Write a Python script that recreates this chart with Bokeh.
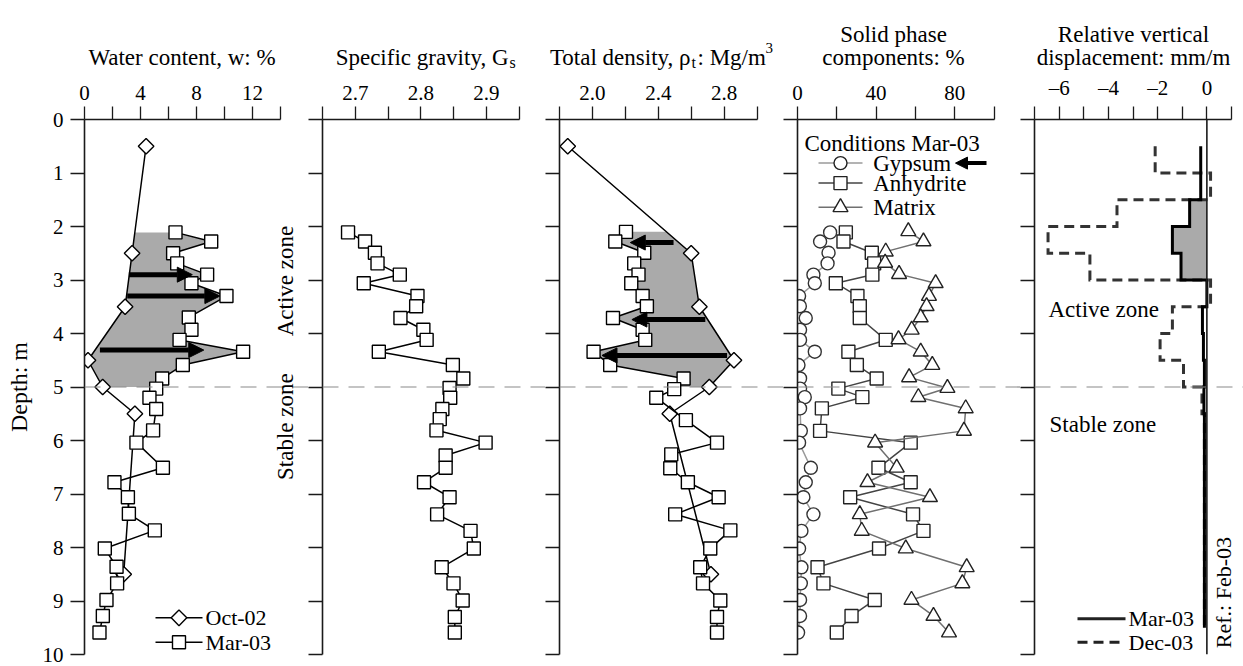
import numpy as np
from bokeh.plotting import figure
from bokeh.layouts import row, column
from bokeh.models import Range1d, FixedTicker, Span, Label, Arrow, NormalHead, ColumnDataSource
from bokeh.core.properties import value
from bokeh.embed import file_html
from bokeh.resources import INLINE

# ---------------- data ----------------
# Water content profiles (depth in m, w in %)
OCT02_DEPTH = [0.5, 2.5, 3.5, 4.5, 5.0, 5.5, 8.5]
OCT02_W = [4.4, 3.4, 2.9, 0.25, 1.3, 3.6, 2.8]
MAR03_W_DEPTH = [2.11, 2.28, 2.50, 2.69, 2.90, 3.06, 3.30, 3.70, 3.93, 4.12, 4.34, 4.59, 4.84,
                 5.03, 5.20, 5.41, 5.81, 6.04, 6.51, 6.78, 7.06, 7.37, 7.68, 8.02, 8.36, 8.67,
                 8.98, 9.28, 9.59]
MAR03_W = [6.5, 9.05, 6.33, 6.62, 8.76, 7.64, 10.14, 7.45, 7.64, 6.79, 11.33, 7.02, 5.55,
           5.12, 4.64, 5.12, 4.9, 3.71, 5.6, 2.14, 3.1, 3.17, 5.02, 1.45, 2.29, 2.33,
           1.57, 1.31, 1.07]
# wetting arrows: depth, from, to
W_ARROW_DEPTH = [2.90, 3.30, 4.31]
W_ARROW_FROM = [3.17, 3.05, 1.10]
W_ARROW_TO = [7.70, 9.67, 8.52]

# Specific gravity
GS_DEPTH = [2.11, 2.28, 2.49, 2.69, 2.90, 3.06, 3.30, 3.49, 3.71, 3.93, 4.12, 4.34, 4.59, 4.84,
            5.02, 5.20, 5.41, 5.60, 5.81, 6.04, 6.28, 6.51, 6.78, 7.06, 7.38, 7.69, 8.02, 8.37,
            8.67, 8.99, 9.30, 9.59]
GS = [2.689, 2.715, 2.730, 2.734, 2.768, 2.713, 2.795, 2.793, 2.769, 2.804, 2.809, 2.736, 2.849,
      2.865, 2.844, 2.845, 2.833, 2.829, 2.824, 2.899, 2.838, 2.838, 2.805, 2.844, 2.825, 2.876,
      2.881, 2.832, 2.850, 2.864, 2.852, 2.852]

# Total density
OCT02_RHO = [1.85, 2.60, 2.65, 2.86, 2.71, 2.47, 2.72]
MAR03_RHO_DEPTH = [2.10, 2.28, 2.49, 2.69, 2.90, 3.06, 3.30, 3.49, 3.71, 3.93, 4.12, 4.34, 4.59,
                   4.84, 5.04, 5.20, 5.62, 6.04, 6.26, 6.52, 6.78, 7.06, 7.38, 7.68, 8.02, 8.37,
                   8.67, 8.99, 9.30, 9.59]
MAR03_RHO = [2.204, 2.139, 2.315, 2.254, 2.280, 2.236, 2.305, 2.331, 2.125, 2.305, 2.321, 2.007,
             2.108, 2.554, 2.497, 2.388, 2.568, 2.757, 2.479, 2.473, 2.580, 2.767, 2.503, 2.838,
             2.716, 2.655, 2.672, 2.777, 2.757, 2.757]
RHO_ARROW_DEPTH = [2.30, 3.74, 4.41]
RHO_ARROW_FROM = [2.493, 2.686, 2.818]
RHO_ARROW_TO = [2.230, 2.240, 2.058]

# Solid phase components (%)
GYP_DEPTH = [2.11, 2.28, 2.49, 2.69, 2.90, 3.06, 3.30, 3.49, 3.71, 3.93, 4.12, 4.34, 4.59, 4.84,
             5.03, 5.19, 5.40, 5.82, 6.04, 6.51, 6.78, 7.06, 7.38, 7.69, 8.02, 8.37, 8.67, 8.98,
             9.28, 9.59]
GYPSUM = [16.6, 11.5, 15.8, 15.3, 8.1, 8.8, 0.8, 1.2, 4.2, 1.3, 1.3, 8.8, 0.5, 1.3,
          1.3, 3.7, 1.3, 1.7, 0.8, 6.8, 4.2, 3.0, 8.1, 2.0, 0.8, 2.0, 1.7, 1.3, 1.3, 0.3]
ANH_DEPTH = [2.11, 2.28, 2.49, 2.69, 2.90, 3.06, 3.30, 3.49, 3.71, 4.12, 4.34, 4.59, 4.84, 5.03,
             5.19, 5.40, 5.82, 6.04, 6.51, 6.78, 7.06, 7.38, 7.69, 8.02, 8.37, 8.67, 8.98, 9.28,
             9.59]
ANHYDRITE = [24.6, 23.4, 37.8, 39.0, 38.1, 19.5, 30.5, 31.7, 31.7, 44.9, 25.9, 30.2, 40.3, 20.8,
             33.0, 12.4, 11.5, 57.6, 41.2, 57.6, 26.8, 58.8, 64.1, 41.5, 10.2, 13.2, 39.3, 27.5,
             20.0]
MAT_DEPTH = [2.09, 2.28, 2.47, 2.68, 2.89, 3.06, 3.30, 3.49, 3.70, 3.93, 4.11, 4.34, 4.59, 4.82,
             5.02, 5.19, 5.40, 5.82, 6.04, 6.51, 6.78, 7.06, 7.38, 7.69, 8.02, 8.37, 8.67, 8.98,
             9.28, 9.59]
MATRIX = [56.4, 64.1, 44.9, 44.6, 51.7, 70.3, 66.9, 65.7, 62.7, 58.1, 51.4, 62.7, 68.6, 56.8,
          76.3, 61.5, 85.6, 84.7, 39.5, 50.5, 35.6, 67.4, 31.7, 32.7, 55.1, 86.1, 83.9, 58.0,
          69.2, 77.1]

# Relative vertical displacement (mm/m), per 0.5 m interval
DISP_EDGES = [0.5, 1.0, 1.5, 2.0, 2.5, 3.0, 3.5, 4.0, 4.5, 5.0, 5.5, 6.0, 6.5, 7.0, 7.5, 8.0,
              8.5, 9.0, 9.5]
DISP_MAR03 = [-0.25, -0.25, -0.70, -1.40, -1.05, 0.00, -0.18, -0.14, -0.10, -0.12,
              -0.10, -0.10, -0.10, -0.10, -0.10, -0.10, -0.10, -0.10]
DISP_DEC03 = [-2.10, 0.15, -3.65, -6.45, -4.75, 0.15, -1.40, -1.90, -0.95, -0.20,
              -0.10, -0.10, -0.10, -0.10, -0.10, -0.10, -0.10, -0.10]
DISP_FILL_TOP, DISP_FILL_BOTTOM = 1.5, 3.0

ZONE_BOUNDARY = 5.0

# axis ticks: labelled ticks, their labels, and the unlabelled ticks in between
DEPTH_TICKS = [0, 1, 2, 3, 4, 5, 6, 7, 8, 9, 10]
W_TICKS, W_LABELS, W_MINOR = [0, 4, 8, 12], ["0", "4", "8", "12"], [2, 6, 10, 14]
GS_TICKS, GS_LABELS, GS_MINOR = [2.7, 2.8, 2.9], ["2.7", "2.8", "2.9"], [2.65, 2.75, 2.85, 2.95]
RHO_TICKS, RHO_LABELS, RHO_MINOR = [2.0, 2.4, 2.8], ["2.0", "2.4", "2.8"], [1.8, 2.2, 2.6, 3.0]
SOLID_TICKS, SOLID_LABELS, SOLID_MINOR = [0, 40, 80], ["0", "40", "80"], [20, 60, 100]
DISP_TICKS = [-6, -4, -2, 0]
DISP_LABELS = ["\u20136", "\u20134", "\u20132", "0"]
DISP_MINOR = [-7, -5, -3, -1, 1]

# ---------------- layout / style ----------------
FONT = "Liberation Serif"
W = 1243
HEAD = 72                      # strip holding the panel titles
H = 666 - HEAD                 # height of the panel row
TOP, BOTTOM = 46, 12           # frame borders inside the panel row
FRAME_TOP = HEAD + TOP         # page row of depth 0
PX_PER_M = (H - TOP - BOTTOM) / 10.0
TICK = 14
INK = "#1a1a1a"
SHADE = "#aaaaaa"

Y_RANGE = Range1d(10, 0)


def depth_at(py):
    return (py - FRAME_TOP) / PX_PER_M


def style_ticks(ax, out):
    ax.major_tick_out = out
    ax.major_tick_in = 0
    ax.minor_tick_out = out
    ax.minor_tick_in = 0
    ax.axis_line_width = 1.6
    ax.axis_line_color = INK
    ax.major_tick_line_width = 1.3
    ax.major_tick_line_color = INK
    ax.minor_tick_line_width = 1.3
    ax.minor_tick_line_color = INK


def make_panel(fig_left, axis_px, fig_right, x0, x1, span_px, ticks, labels, minor,
               depth_labels=False):
    frame_w = fig_right - axis_px
    x_end = x0 + (x1 - x0) * frame_w / span_px
    p = figure(width=fig_right - fig_left, height=H, x_range=Range1d(x0, x_end), y_range=Y_RANGE,
               x_axis_location="above", output_backend="svg", toolbar_location=None,
               min_border_left=axis_px - fig_left, min_border_right=0,
               min_border_top=TOP, min_border_bottom=BOTTOM)
    p.outline_line_color = None
    p.xgrid.visible = False
    p.ygrid.visible = False
    p.background_fill_color = "white"
    p.border_fill_color = "white"

    xa = p.xaxis[0]
    xa.ticker = FixedTicker(ticks=ticks, minor_ticks=minor)
    xa.bounds = (x0, x1)
    xa.major_label_overrides = dict(zip(ticks, labels))
    style_ticks(xa, 13)
    xa.major_label_text_font = FONT
    xa.major_label_text_font_size = "21px"
    xa.major_label_text_color = "black"
    xa.major_label_standoff = 7

    ya = p.yaxis[0]
    style_ticks(ya, TICK)
    if depth_labels:
        ya.ticker = FixedTicker(ticks=DEPTH_TICKS, minor_ticks=[])
        ya.major_label_text_font = FONT
        ya.major_label_text_font_size = "21px"
        ya.major_label_text_color = "black"
        ya.major_label_standoff = 7
        ya.axis_label = "Depth: m"
        ya.axis_label_text_font = FONT
        ya.axis_label_text_font_size = "24px"
        ya.axis_label_text_font_style = "normal"
        ya.axis_label_text_color = "black"
        ya.axis_label_standoff = 8
    else:
        # unlabelled depth ticks
        ya.ticker = FixedTicker(ticks=[], minor_ticks=DEPTH_TICKS)
        ya.major_label_standoff = 0

    p.add_layout(Span(location=ZONE_BOUNDARY, dimension="width", line_color="#8a8a8a",
                      line_dash="16 10", line_width=1.2))

    def conv(px):
        return x0 + (px - axis_px) * (x1 - x0) / span_px

    return p, conv


def label(p, x, y, text, size=23, align="left", baseline="alphabetic", angle=0.0):
    p.add_layout(Label(x=x, y=y, text=text, text_font=FONT, text_font_size=f"{size}px",
                       text_align=align, text_baseline=baseline, angle=angle,
                       text_color="black"))


def shade_between(p, left_d, left_v, right_d, right_v, top, bottom):
    left_d, left_v = np.asarray(left_d), np.asarray(left_v)
    right_d, right_v = np.asarray(right_d), np.asarray(right_v)
    lsel = (left_d > top) & (left_d < bottom)
    rsel = (right_d > top) & (right_d < bottom)
    lx = [np.interp(top, left_d, left_v)] + list(left_v[lsel]) + [np.interp(bottom, left_d, left_v)]
    ly = [top] + list(left_d[lsel]) + [bottom]
    rx = [np.interp(top, right_d, right_v)] + list(right_v[rsel]) + [np.interp(bottom, right_d, right_v)]
    ry = [top] + list(right_d[rsel]) + [bottom]
    p.patch(lx + rx[::-1], ly + ry[::-1], fill_color=SHADE, line_color=None)


def arrows(p, depth, x_from, x_to, size=15, width=5):
    src = ColumnDataSource(dict(x0=x_from, x1=x_to, y=depth))
    p.add_layout(Arrow(end=NormalHead(size=size, fill_color="black", line_color="black"),
                       x_start="x0", y_start="y", x_end="x1", y_end="y", source=src,
                       line_width=width, line_color="black"))


def profile(p, x, y, marker, size, line_color="black", line_width=1.5, angle=0.0,
            marker_line="black"):
    p.line(x, y, line_color=line_color, line_width=line_width)
    p.scatter(x, y, marker=marker, size=size, angle=angle, fill_color="white",
              line_color=marker_line, line_width=1.4)


def steps(edges, vals):
    xs, ys = [], []
    for i, v in enumerate(vals):
        xs += [v, v]
        ys += [edges[i], edges[i + 1]]
    return xs, ys


DIAMOND = dict(marker="square", size=11, angle=np.pi / 4)

# ---------------- title strip ----------------
head = figure(width=W, height=HEAD, x_range=Range1d(0, W), y_range=Range1d(HEAD, 0),
              x_axis_location=None, y_axis_location=None, output_backend="svg",
              toolbar_location=None, min_border=0)
head.outline_line_color = None
head.xgrid.visible = False
head.ygrid.visible = False
head.border_fill_color = "white"


def head_text(x, y, s, size=23, align="left"):
    head.text([x], [y], text=[s], text_font=value(FONT), text_font_size=value(f"{size}px"),
              text_align=align, text_baseline="alphabetic", text_color="black")


head_text(181.5, 57, "Water content, w: %", align="center")
head_text(508, 57, "Specific gravity, G", align="right")
head_text(509, 62, "s", size=16)
head_text(690, 57, "Total density, \u03c1", align="right")
head_text(691, 62, "t", size=16)
head_text(697, 57, ": Mg/m")
head_text(765, 47, "3", size=15)
head_text(893, 34, "Solid phase", align="center")
head_text(893, 57, "components: %", align="center")
head_text(1133, 34, "Relative vertical", align="center")
head_text(1133, 57, "displacement: mm/m", align="center")

# ---------------- panel 1: water content ----------------
p1, c1 = make_panel(0, 84, 308, 0, 14, 196, W_TICKS, W_LABELS, W_MINOR, depth_labels=True)
shade_between(p1, OCT02_DEPTH, OCT02_W, MAR03_W_DEPTH, MAR03_W, MAR03_W_DEPTH[0], ZONE_BOUNDARY)
profile(p1, OCT02_W, OCT02_DEPTH, **DIAMOND)
profile(p1, MAR03_W, MAR03_W_DEPTH, "square", 13)
arrows(p1, W_ARROW_DEPTH, W_ARROW_FROM, W_ARROW_TO)
label(p1, c1(285), 3.02, "Active zone", align="center", baseline="middle", angle=np.pi / 2)
label(p1, c1(285), 5.74, "Stable zone", align="center", baseline="middle", angle=np.pi / 2)
for py, spec, name in [(617.3, DIAMOND, "Oct-02"), (641.7, dict(marker="square", size=13), "Mar-03")]:
    d = depth_at(py)
    p1.line([c1(155), c1(202)], [d, d], line_color="black", line_width=1.5)
    p1.scatter([c1(178.5)], [d], fill_color="white", line_color="black", line_width=1.4, **spec)
    label(p1, c1(205), d, name, size=22, baseline="middle")

# ---------------- panel 2: specific gravity ----------------
p2, c2 = make_panel(308, 322, 545, 2.65, 2.95, 196.5, GS_TICKS, GS_LABELS, GS_MINOR)
profile(p2, GS, GS_DEPTH, "square", 13)

# ---------------- panel 3: total density ----------------
p3, c3 = make_panel(545, 559, 783, 1.8, 3.0, 197.5, RHO_TICKS, RHO_LABELS, RHO_MINOR)
shade_between(p3, MAR03_RHO_DEPTH, MAR03_RHO, OCT02_DEPTH, OCT02_RHO, MAR03_RHO_DEPTH[0], ZONE_BOUNDARY)
profile(p3, OCT02_RHO, OCT02_DEPTH, **DIAMOND)
profile(p3, MAR03_RHO, MAR03_RHO_DEPTH, "square", 13)
arrows(p3, RHO_ARROW_DEPTH, RHO_ARROW_FROM, RHO_ARROW_TO)

# ---------------- panel 4: solid phase components ----------------
p4, c4 = make_panel(783, 797, 1020, 0, 100, 196.5, SOLID_TICKS, SOLID_LABELS, SOLID_MINOR)
profile(p4, GYPSUM, GYP_DEPTH, "circle", 13, line_color="#9a9a9a", marker_line="#333333")
profile(p4, ANHYDRITE, ANH_DEPTH, "square", 13, line_color="#444444", marker_line="#222222")
profile(p4, MATRIX, MAT_DEPTH, "triangle", 15, line_color="#707070", marker_line="#222222")
label(p4, c4(804), depth_at(142), "Conditions Mar-03", size=23)
for py, marker, size, lc, name in [(161.7, "circle", 13, "#9a9a9a", "Gypsum"),
                                   (181.7, "square", 13, "#444444", "Anhydrite"),
                                   (206.0, "triangle", 15, "#707070", "Matrix")]:
    d = depth_at(py)
    p4.line([c4(818), c4(862)], [d, d], line_color=lc, line_width=1.5)
    p4.scatter([c4(840)], [d], marker=marker, size=size, fill_color="white",
               line_color="#222222", line_width=1.4)
    label(p4, c4(872.7), d, name, size=23, baseline="middle")
arrows(p4, [depth_at(161.7)], [c4(986)], [c4(955)], size=12, width=4)

# ---------------- panel 5: relative vertical displacement ----------------
p5, c5 = make_panel(1020, 1034, 1243, -7, 1, 197, DISP_TICKS, DISP_LABELS, DISP_MINOR)
p5.add_layout(Span(location=0, dimension="height", line_color=INK, line_width=1.6))
fill_sel = [i for i in range(len(DISP_MAR03))
            if DISP_EDGES[i] >= DISP_FILL_TOP and DISP_EDGES[i + 1] <= DISP_FILL_BOTTOM]
fx, fy = steps(DISP_EDGES[fill_sel[0]:fill_sel[-1] + 2], DISP_MAR03[fill_sel[0]:fill_sel[-1] + 1])
p5.patch([0] + fx + [0], [DISP_FILL_TOP] + fy + [DISP_FILL_BOTTOM], fill_color=SHADE, line_color=None)
sx, sy = steps(DISP_EDGES, DISP_DEC03)
p5.line(sx, sy, line_color="#333333", line_width=3, line_dash="10 6", line_join="miter")
sx, sy = steps(DISP_EDGES, DISP_MAR03)
p5.line(sx, sy, line_color="black", line_width=3, line_join="miter")
label(p5, c5(1048), depth_at(308), "Active zone")
label(p5, c5(1049), depth_at(424), "Stable zone")
label(p5, c5(1223), depth_at(592), "Ref.: Feb-03", size=22, align="center", baseline="middle",
      angle=np.pi / 2)
for py, dash, name in [(618.3, "solid", "Mar-03"), (641.7, "10 6", "Dec-03")]:
    d = depth_at(py)
    p5.line([c5(1077), c5(1125)], [d, d], line_color="#222222", line_width=3, line_dash=dash)
    label(p5, c5(1128), d, name, size=22, baseline="middle")

layout = column(head, row(p1, p2, p3, p4, p5))
open("out.html", "w").write(file_html(layout, INLINE))
